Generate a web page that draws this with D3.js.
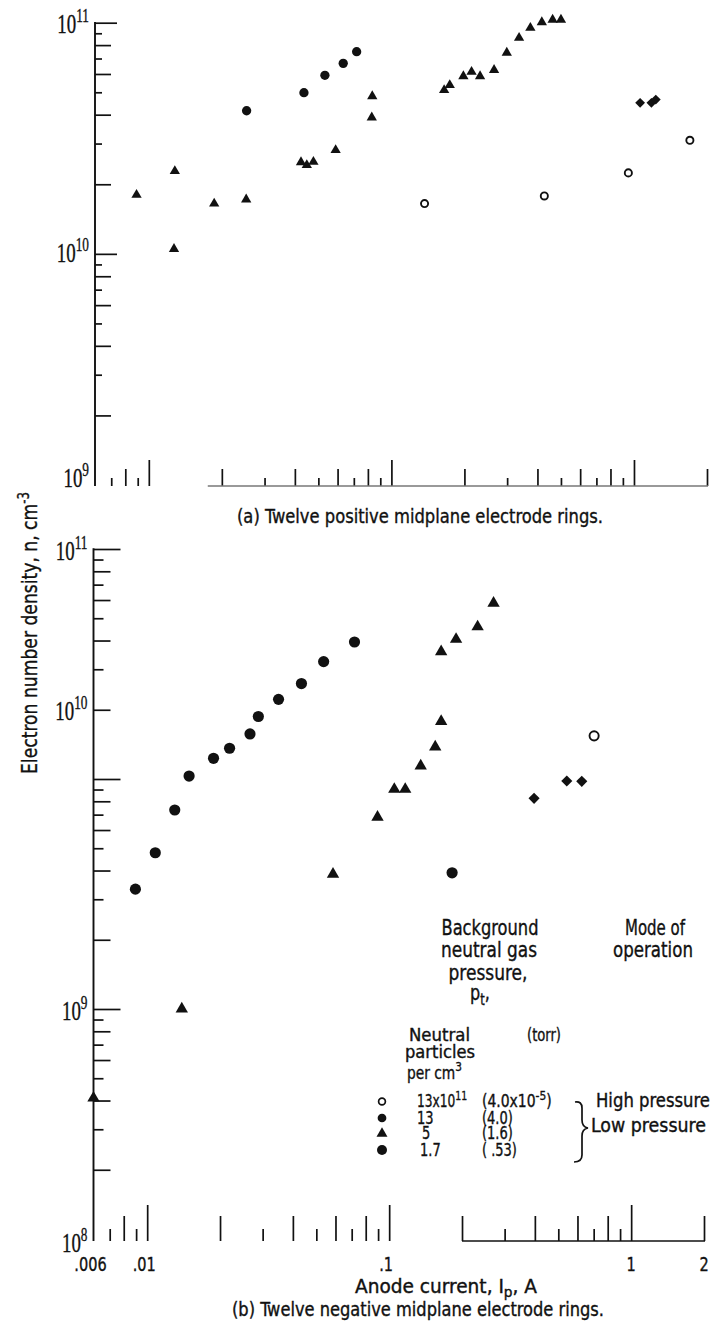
<!DOCTYPE html>
<html><head><meta charset="utf-8">
<script src="https://cdn.jsdelivr.net/npm/d3@7"></script>
<style>
body{margin:0;background:#fff}
svg{display:block;background:#fff}
</style></head><body>
<svg id="c" width="718" height="1331"></svg>
<script>
// ---------------- DATA ----------------
const xTickValues = [0.007,0.008,0.009,0.01,0.02,0.03,0.04,0.05,0.06,0.07,0.08,0.09,0.1,0.2,0.3,0.4,0.5,0.6,0.7,0.8,0.9,1,2];
const xLabelValues = [0.006,0.01,0.1,1,2];
const xLabelText = [".006",".01",".1","1","2"];
const yTickValuesA = [2e9,3e9,4e9,5e9,6e9,7e9,8e9,9e9,1e10,2e10,3e10,4e10,5e10,6e10,7e10,8e10,9e10,1e11];
const yTickValuesB = [2e8,3e8,4e8,5e8,6e8,7e8,8e8,9e8,1e9,2e9,3e9,4e9,5e9,6e9,7e9,8e9,9e9,1e10,2e10,3e10,4e10,5e10,6e10,7e10,8e10,9e10,1e11];
const yLabelValuesA = [1e11,1e10,1e9];
const yLabelExpA = ["11","10","9"];
const yLabelValuesB = [1e11,2e10,1e9,1e8];   // "10^10" label sits at this tick in the original
const yLabelExpB = ["11","10","9","8"];

// (a) Twelve positive midplane electrode rings: [anode current A, density cm^-3]
const aOpenCircles = [[0.137,1.65e10],[0.427,1.78e10],[0.948,2.24e10],[1.70,3.1e10]];
const aDiamonds = [[1.06,4.5e10],[1.18,4.5e10],[1.23,4.65e10]];
const aTriangles = [[0.0089,1.8e10],[0.0128,2.28e10],[0.0127,1.05e10],[0.0186,1.65e10],[0.0252,1.72e10],
  [0.0424,2.49e10],[0.0448,2.42e10],[0.0477,2.5e10],[0.0589,2.81e10],[0.0834,4.81e10],[0.083,3.89e10],
  [0.165,5.11e10],[0.174,5.37e10],[0.198,5.87e10],[0.214,6.13e10],[0.232,5.87e10],[0.265,6.24e10],
  [0.299,7.41e10],[0.336,8.6e10],[0.374,9.5e10],[0.417,1.005e11],[0.462,1.03e11],[0.50,1.03e11]];
const aCircles = [[0.0253,4.16e10],[0.0436,4.98e10],[0.0532,5.92e10],[0.0633,6.67e10],[0.0719,7.49e10]];

// (b) Twelve negative midplane electrode rings
const bOpenCircles = [[0.703,1.54e10]];
const bDiamonds = [[0.397,8.24e9],[0.542,9.8e9],[0.625,9.77e9]];
const bTriangles = [[0.006,4.1e8],[0.0139,1.0e9],[0.0586,3.86e9],[0.0895,6.82e9],[0.105,9.02e9],[0.1165,9.02e9],
  [0.135,1.14e10],[0.155,1.38e10],[0.164,1.78e10],[0.164,3.58e10],[0.189,4.05e10],[0.232,4.59e10],[0.270,5.81e10]];
const bCircles = [[0.00894,3.32e9],[0.0108,4.78e9],[0.0130,7.33e9],[0.0149,1.03e10],[0.0188,1.23e10],
  [0.0219,1.36e10],[0.0266,1.57e10],[0.0288,1.87e10],[0.0349,2.22e10],[0.0434,2.6e10],[0.0536,3.24e10],
  [0.0719,3.94e10],[0.182,3.91e9]];

// legend
const legendParticles = ["13x10", "13", "5", "1.7"];
const legendTorr = ["(4.0x10", "(4.0)", "(1.6)", "( .53)"];

// ---------------- DRAW ----------------
const sans = '"DejaVu Sans Condensed","Liberation Sans Narrow","Arial Narrow",sans-serif';
const serif = '"Liberation Serif","DejaVu Serif","Times New Roman",serif';
const svg = d3.select("#c");
const ink = "#111";

function addText(x, y, parts, opt = {}) {
  const t = svg.append("text")
    .attr("font-family", opt.serif ? serif : sans)
    .attr("font-size", opt.size || 17)
    .attr("text-anchor", opt.anchor || "start")
    .attr("fill", ink)
    .attr("stroke", ink).attr("stroke-width", opt.bold == null ? 0.35 : opt.bold);
  if (opt.transform) t.attr("x", x).attr("y", y).attr("transform", opt.transform);
  else if (opt.sx) t.attr("x", 0).attr("y", 0).attr("transform", `translate(${x},${y}) scale(${opt.sx},1)`);
  else t.attr("x", x).attr("y", y);
  let cur = 0;
  parts.forEach(p => {
    if (typeof p === "string") p = {t: p, shift: 0};
    const s = p.shift || 0;
    const ts = t.append("tspan").text(p.t);
    if (s !== cur) ts.attr("dy", s - cur);
    if (p.size) ts.attr("font-size", p.size);
    cur = s;
  });
  if (opt.len) t.attr("textLength", opt.len).attr("lengthAdjust", "spacingAndGlyphs");
  return t;
}

function tickClass(v) {
  const e = Math.floor(Math.log10(v) + 1e-9);
  const lead = Math.round(v / Math.pow(10, e));
  return lead === 1 ? "major" : (lead % 2 === 0 ? "mid" : "minor");
}

function drawPanel(cfg) {
  const {x, y, yTicks, yLen, xLen, xAxisY, baseFrom, baseColor, labelVals, labelExp, labelDy} = cfg;
  const g = svg.append("g");
  const x0 = x.range()[0];
  ["major","mid","minor"].forEach(c => {
    g.append("g").attr("transform", `translate(${x0},0)`)
      .call(d3.axisRight(y).tickValues(yTicks.filter(v => tickClass(v) === c)).tickSize(yLen[c]).tickFormat(""))
      .call(a => a.select(".domain").remove())
      .call(a => a.selectAll("line").attr("stroke", ink).attr("stroke-width", 1.7));
  });
  g.append("line").attr("x1", x0).attr("x2", x0)
    .attr("y1", y(y.domain()[1]) - 0.8).attr("y2", xAxisY)
    .attr("stroke", ink).attr("stroke-width", 1.9);
  ["major","mid","minor"].forEach(c => {
    g.append("g").attr("transform", `translate(0,${xAxisY})`)
      .call(d3.axisTop(x).tickValues(xTickValues.filter(v => tickClass(v) === c)).tickSize(xLen[c]).tickFormat(""))
      .call(a => a.select(".domain").remove())
      .call(a => a.selectAll("line").attr("stroke", ink).attr("stroke-width", 1.7));
  });
  g.append("line").attr("x1", x(baseFrom)).attr("x2", x(x.domain()[1]) + 1)
    .attr("y1", xAxisY).attr("y2", xAxisY).attr("stroke", baseColor).attr("stroke-width", 1.6);
  labelVals.forEach((v, i) => {
    addText(x0 - 6, y(v) + labelDy[i], ["10", {t: labelExp[i], shift: -11, size: 19}],
      {serif: true, size: 27, anchor: "end", sx: 0.7, bold: 0.35});
  });
  return g;
}

function drawMarks(data, x, y, kind, size) {
  const g = svg.append("g");
  const typ = kind === "tri" ? d3.symbolTriangle : kind === "dia" ? d3.symbolSquare : d3.symbolCircle;
  g.selectAll("path").data(data).enter().append("path")
    .attr("transform", d => `translate(${x(d[0])},${y(d[1])})` + (kind === "dia" ? " rotate(45)" : ""))
    .attr("d", d3.symbol().type(typ).size(size))
    .attr("fill", kind === "open" ? "#fff" : ink)
    .attr("stroke", ink)
    .attr("stroke-width", kind === "open" ? 1.9 : 0);
}

// Panel (a)
const xA = d3.scaleLog().domain([0.006, 2]).range([95, 707]);
const yA = d3.scaleLog().domain([1e9, 1e11]).range([485, 22.7]);
drawPanel({x: xA, y: yA, yTicks: yTickValuesA,
  yLen: {major: 22, mid: 16, minor: 7}, xLen: {major: 26, mid: 17, minor: 8},
  xAxisY: 486, baseFrom: 0.0175, baseColor: "#777",
  labelVals: yLabelValuesA, labelExp: yLabelExpA, labelDy: [10, 8, 2]});
drawMarks(aOpenCircles, xA, yA, "open", 40);
drawMarks(aDiamonds, xA, yA, "dia", 48);
drawMarks(aTriangles, xA, yA, "tri", 46);
drawMarks(aCircles, xA, yA, "circle", 68);
addText(420, 523, ["(a) Twelve positive midplane electrode rings."], {anchor: "middle", size: 19, len: 366});

// Panel (b)
const xB = d3.scaleLog().domain([0.006, 2]).range([93.5, 704]);
const yB = d3.scaleLog().domain([1e8, 1e11]).range([1239, 549]);
drawPanel({x: xB, y: yB, yTicks: yTickValuesB,
  yLen: {major: 27, mid: 17, minor: 10}, xLen: {major: 36, mid: 25, minor: 12},
  xAxisY: 1241, baseFrom: 0.2, baseColor: ink,
  labelVals: yLabelValuesB, labelExp: yLabelExpB, labelDy: [11, 10, 11, 13]});
drawMarks(bOpenCircles, xB, yB, "open", 66);
drawMarks(bDiamonds, xB, yB, "dia", 62);
drawMarks(bTriangles, xB, yB, "tri", 66);
drawMarks(bCircles, xB, yB, "circle", 98);

// x labels
xLabelValues.forEach((v, i) => addText(xB(v) - (i < 3 ? 3 : 0), 1271, [xLabelText[i]], {anchor: "middle", size: 19, sx: 0.85}));
addText(446, 1293, ["Anode current, I", {t: "p", shift: 4, size: 14}, {t: ", A", shift: 0}], {anchor: "middle", size: 19, len: 182});
addText(418, 1316, ["(b) Twelve negative midplane electrode rings."], {anchor: "middle", size: 19, len: 372});

// y title
addText(0, 0, ["Electron number density, n, cm", {t: "-3", shift: -8, size: 15}],
  {anchor: "middle", size: 22, len: 282, transform: "translate(37,633) rotate(-90)"});

// legend headers
addText(490, 935, ["Background"], {anchor: "middle", size: 21, len: 97});
addText(489, 957, ["neutral gas"], {anchor: "middle", size: 21, len: 96});
addText(488, 980, ["pressure,"], {anchor: "middle", size: 21, len: 79});
addText(480, 1000, ["p", {t: "t", shift: 5, size: 15}, {t: ",", shift: 0}], {anchor: "middle", size: 21, sx: 0.85});
addText(655, 935, ["Mode of"], {anchor: "middle", size: 21, len: 60});
addText(653, 957, ["operation"], {anchor: "middle", size: 21, len: 80});
addText(409, 1041, ["Neutral"], {size: 17, len: 61});
addText(527, 1041, ["(torr)"], {size: 17, len: 34});
addText(405, 1058, ["particles"], {size: 17, len: 70});
addText(407, 1079, ["per cm", {t: "3", shift: -8, size: 13}], {size: 17, len: 55});

// legend rows
const rowY = [1101.5, 1118, 1133.5, 1150];
const legendKinds = ["open", "circle", "tri", "circle"];
const legendSizes = [36, 60, 52, 78];
legendKinds.forEach((k, i) => {
  const typ = k === "tri" ? d3.symbolTriangle : d3.symbolCircle;
  svg.append("path").attr("transform", `translate(382,${rowY[i]})`)
    .attr("d", d3.symbol().type(typ).size(legendSizes[i]))
    .attr("fill", k === "open" ? "#fff" : ink).attr("stroke", ink).attr("stroke-width", k === "open" ? 1.7 : 0);
});
const partX = [417, 417, 422, 420];
legendParticles.forEach((s, i) => {
  const parts = i === 0 ? [s, {t: "11", shift: -7, size: 13}] : [s];
  addText(partX[i], rowY[i] + 5.5, parts, {size: 17, sx: 0.85, len: i === 0 ? 59 : null});
});
legendTorr.forEach((s, i) => {
  const parts = i === 0 ? [s, {t: "-5", shift: -7, size: 13}, {t: ")", shift: 0}] : [s];
  addText(482, rowY[i] + 5.5, parts, {size: 17, sx: 0.85, len: i === 0 ? 82 : null});
});
addText(596, 1107, ["High pressure"], {size: 19, len: 114});
addText(591, 1132, ["Low pressure"], {size: 19, len: 115});
// brace
svg.append("path")
  .attr("d", "M575,1102 Q582,1101 582,1108 L582,1120 Q582,1127 588,1128 Q582,1129 582,1136 L582,1155 Q582,1162 574,1162")
  .attr("fill", "none").attr("stroke", ink).attr("stroke-width", 1.7);
</script>
</body></html>
